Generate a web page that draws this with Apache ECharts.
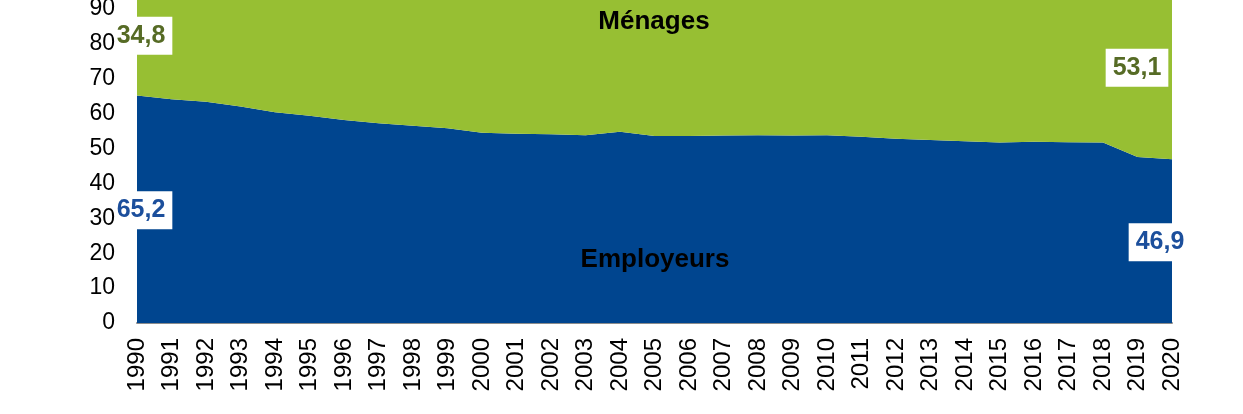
<!DOCTYPE html>
<html style="height: 100%">
<head>
<meta charset="utf-8">
<script src="https://cdn.jsdelivr.net/npm/echarts@6/dist/echarts.min.js"></script>
</head>
<body style="height: 100%; margin: 0; background: #fff">
<div id="container" style="width: 1243px; height: 414px"></div>
<script type="text/javascript">
var years = [];
for (var y = 1990; y <= 2020; y++) years.push(String(y));

// part des cotisations (%)
var employeurs = [65.2, 64.1, 63.4, 62.0, 60.4, 59.4, 58.2, 57.2, 56.5, 55.8,
    54.5, 54.2, 54.1, 53.8, 54.8, 53.6, 53.6, 53.7, 53.8, 53.7,
    53.8, 53.4, 52.8, 52.4, 52.1, 51.7, 51.9, 51.8, 51.7, 47.6, 46.9];
var menages = [34.8, 35.9, 36.6, 38.0, 39.6, 40.6, 41.8, 42.8, 43.5, 44.2,
    45.5, 45.8, 45.9, 46.2, 45.2, 46.4, 46.4, 46.3, 46.2, 46.3,
    46.2, 46.6, 47.2, 47.6, 47.9, 48.3, 48.1, 48.2, 48.3, 52.4, 53.1];

var BLUE = '#00458f';
var GREEN = '#97bf33';
var FONT = '"Liberation Sans", Arial, sans-serif';

var dom = document.getElementById('container');
var myChart = echarts.init(dom);

function fmt(v) {
    return v.toFixed(1).replace('.', ',');
}

// etiquettes de debut et fin de serie, placees au milieu de chaque aire
var last = years.length - 1;
function valueLabel(i, yv, text, color, dx) {
    return {
        value: [i, yv],
        label: {
            show: true,
            formatter: text,
            color: color,
            offset: [dx, 1]
        }
    };
}
var labelData = [
    valueLabel(0, employeurs[0] / 2, fmt(employeurs[0]), '#1c4f9c', 4),
    valueLabel(0, employeurs[0] + menages[0] / 2, fmt(menages[0]), '#566b25', 4),
    valueLabel(last, employeurs[last] / 2, fmt(employeurs[last]), '#1c4f9c', -12),
    valueLabel(last, employeurs[last] + menages[last] / 2, fmt(menages[last]), '#566b25', -35)
];

var option = {
    animation: false,
    grid: { left: 137, right: 71, top: -26, bottom: 91, containLabel: false, outerBoundsMode: 'none' },
    xAxis: {
        type: 'category',
        data: years,
        boundaryGap: false,
        axisLine: { lineStyle: { color: '#8c8c8c', width: 2 } },
        axisTick: { show: false },
        axisLabel: {
            rotate: 90,
            interval: 0,
            margin: 15,
            color: '#000',
            fontSize: 24,
            fontFamily: FONT
        }
    },
    yAxis: {
        type: 'value',
        min: 0,
        max: 100,
        interval: 10,
        z: 5,
        splitLine: { show: false },
        axisLine: { show: false },
        axisTick: { show: false },
        axisLabel: {
            margin: 22,
            color: '#000',
            fontSize: 23,
            fontFamily: FONT
        }
    },
    series: [
        {
            name: 'Employeurs',
            type: 'line',
            stack: 'total',
            data: employeurs,
            symbol: 'none',
            lineStyle: { width: 0 },
            areaStyle: { color: BLUE, opacity: 1 }
        },
        {
            name: 'Ménages',
            type: 'line',
            stack: 'total',
            data: menages,
            symbol: 'none',
            lineStyle: { width: 0 },
            areaStyle: { color: GREEN, opacity: 1 }
        },
        {
            type: 'scatter',
            data: labelData,
            symbolSize: 0,
            z: 4,
            itemStyle: { opacity: 1 },
            label: {
                show: true,
                position: 'inside',
                fontSize: 25,
                fontWeight: 'bold',
                fontFamily: FONT,
                backgroundColor: '#fff',
                padding: [7, 7, 6, 7]
            }
        }
    ],
    graphic: [
        {
            type: 'text',
            z: 100,
            x: 654,
            y: 22,
            style: {
                text: 'Ménages',
                fill: '#000',
                font: 'bold 26px ' + FONT,
                align: 'center',
                verticalAlign: 'middle'
            }
        },
        {
            type: 'text',
            z: 100,
            x: 655,
            y: 260,
            style: {
                text: 'Employeurs',
                fill: '#000',
                font: 'bold 26px ' + FONT,
                align: 'center',
                verticalAlign: 'middle'
            }
        }
    ]
};

if (option && typeof option === 'object') {
    myChart.setOption(option, true);
}
</script>
</body>
</html>
